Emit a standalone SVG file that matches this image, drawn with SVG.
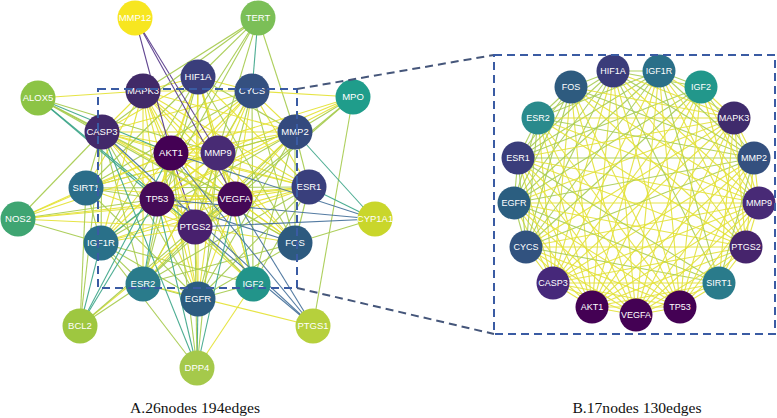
<svg xmlns="http://www.w3.org/2000/svg" width="777" height="418" viewBox="0 0 777 418">
<style>
.e path{fill:none;stroke-width:1.1;stroke-opacity:.92}
.y{stroke:#e4e234}.g{stroke:#a6cb4e}.t{stroke:#3ea68a}.b{stroke:#44709a}.p{stroke:#57398a}
.ry{stroke:#e3e23c}.rg{stroke:#a9cd57}
.lb{font-family:"Liberation Sans",Arial,sans-serif;font-size:9.5px;fill:#fff;text-anchor:middle}
.rb{font-family:"Liberation Sans",Arial,sans-serif;font-size:9px;fill:#fff;text-anchor:middle}
.cap{font-family:"Liberation Serif","Times New Roman",serif;font-size:15.6px;fill:#111;text-anchor:middle}
.box{fill:none;stroke:#3a5ba3;stroke-width:2;stroke-dasharray:8 5}
.lnk{fill:none;stroke:#45567a;stroke-width:2;stroke-dasharray:8 5}
</style>
<rect width="777" height="418" fill="#fff"/>
<g id="connectors-A" class="e">
<path class="y" d="M171 153L102 132"/><path class="y" d="M171 153L252 91"/><path class="y" d="M171 153L198 299"/><path class="y" d="M171 153L309 187"/><path class="g" d="M171 153L143 284"/><path class="y" d="M171 153L295 243"/><path class="y" d="M171 153L198 77"/><path class="y" d="M171 153L101 243"/><path class="g" d="M171 153L253 284"/><path class="y" d="M171 153L143 91"/><path class="y" d="M171 153L295 132"/><path class="y" d="M171 153L218 153"/><path class="p" d="M171 153L195 227"/><path class="y" d="M171 153L86 188"/><path class="y" d="M171 153L157 199"/><path class="y" d="M171 153L235 199"/>
<path class="y" d="M102 132L252 91"/><path class="g" d="M102 132L198 299"/><path class="y" d="M102 132L309 187"/><path class="g" d="M102 132L143 284"/><path class="y" d="M102 132L295 243"/><path class="y" d="M102 132L198 77"/><path class="g" d="M102 132L101 243"/><path class="y" d="M102 132L253 284"/><path class="y" d="M102 132L143 91"/><path class="y" d="M102 132L295 132"/><path class="y" d="M102 132L218 153"/><path class="y" d="M102 132L195 227"/><path class="g" d="M102 132L86 188"/><path class="y" d="M102 132L157 199"/><path class="y" d="M102 132L235 199"/>
<path class="g" d="M252 91L198 299"/><path class="y" d="M252 91L309 187"/><path class="g" d="M252 91L143 284"/><path class="g" d="M252 91L295 243"/><path class="y" d="M252 91L198 77"/><path class="y" d="M252 91L101 243"/><path class="g" d="M252 91L253 284"/><path class="y" d="M252 91L143 91"/><path class="y" d="M252 91L295 132"/><path class="y" d="M252 91L218 153"/><path class="y" d="M252 91L195 227"/><path class="g" d="M252 91L86 188"/><path class="y" d="M252 91L157 199"/><path class="y" d="M252 91L235 199"/>
<path class="g" d="M198 299L309 187"/><path class="g" d="M198 299L143 284"/><path class="g" d="M198 299L295 243"/><path class="y" d="M198 299L198 77"/><path class="g" d="M198 299L101 243"/><path class="g" d="M198 299L253 284"/><path class="y" d="M198 299L143 91"/><path class="g" d="M198 299L295 132"/><path class="y" d="M198 299L218 153"/><path class="y" d="M198 299L195 227"/><path class="g" d="M198 299L86 188"/><path class="y" d="M198 299L157 199"/><path class="y" d="M198 299L235 199"/>
<path class="g" d="M309 187L143 284"/><path class="g" d="M309 187L295 243"/><path class="y" d="M309 187L198 77"/><path class="y" d="M309 187L101 243"/><path class="g" d="M309 187L253 284"/><path class="y" d="M309 187L143 91"/><path class="g" d="M309 187L295 132"/><path class="y" d="M309 187L218 153"/><path class="y" d="M309 187L195 227"/><path class="g" d="M309 187L86 188"/><path class="y" d="M309 187L157 199"/><path class="y" d="M309 187L235 199"/>
<path class="g" d="M143 284L295 243"/><path class="g" d="M143 284L198 77"/><path class="g" d="M143 284L101 243"/><path class="y" d="M143 284L143 91"/><path class="g" d="M143 284L295 132"/><path class="y" d="M143 284L218 153"/><path class="y" d="M143 284L195 227"/><path class="t" d="M143 284L157 199"/><path class="g" d="M143 284L235 199"/>
<path class="g" d="M295 243L198 77"/><path class="y" d="M295 243L143 91"/><path class="g" d="M295 243L295 132"/><path class="y" d="M295 243L218 153"/><path class="y" d="M295 243L195 227"/><path class="b" d="M295 243L157 199"/><path class="y" d="M295 243L235 199"/>
<path class="g" d="M198 77L101 243"/><path class="g" d="M198 77L253 284"/><path class="y" d="M198 77L143 91"/><path class="g" d="M198 77L295 132"/><path class="y" d="M198 77L218 153"/><path class="y" d="M198 77L195 227"/><path class="g" d="M198 77L86 188"/><path class="y" d="M198 77L157 199"/><path class="y" d="M198 77L235 199"/>
<path class="g" d="M101 243L253 284"/><path class="y" d="M101 243L143 91"/><path class="g" d="M101 243L295 132"/><path class="y" d="M101 243L218 153"/><path class="y" d="M101 243L195 227"/><path class="g" d="M101 243L86 188"/><path class="t" d="M101 243L157 199"/><path class="y" d="M101 243L235 199"/>
<path class="y" d="M253 284L143 91"/><path class="g" d="M253 284L295 132"/><path class="y" d="M253 284L218 153"/><path class="g" d="M253 284L195 227"/><path class="y" d="M253 284L157 199"/><path class="t" d="M253 284L235 199"/>
<path class="y" d="M143 91L295 132"/><path class="y" d="M143 91L218 153"/><path class="y" d="M143 91L195 227"/><path class="y" d="M143 91L86 188"/><path class="y" d="M143 91L157 199"/><path class="y" d="M143 91L235 199"/>
<path class="y" d="M295 132L218 153"/><path class="y" d="M295 132L195 227"/><path class="g" d="M295 132L86 188"/><path class="y" d="M295 132L157 199"/><path class="y" d="M295 132L235 199"/>
<path class="y" d="M218 153L195 227"/><path class="y" d="M218 153L86 188"/><path class="y" d="M218 153L157 199"/><path class="y" d="M218 153L235 199"/>
<path class="y" d="M195 227L86 188"/><path class="y" d="M195 227L157 199"/><path class="y" d="M195 227L235 199"/>
<path class="g" d="M86 188L157 199"/><path class="y" d="M86 188L235 199"/>
<path class="y" d="M157 199L235 199"/>
<path class="p" d="M135 18L171 153"/><path class="p" d="M135 18L218 153"/><path class="p" d="M135 18L235 199"/>
<path class="g" d="M258 18L102 132"/><path class="g" d="M258 18L143 91"/><path class="g" d="M258 18L198 77"/><path class="t" d="M258 18L252 91"/><path class="g" d="M258 18L295 132"/><path class="g" d="M258 18L171 153"/><path class="g" d="M258 18L157 199"/><path class="g" d="M258 18L195 227"/>
<path class="y" d="M38 98L143 91"/><path class="g" d="M38 98L102 132"/><path class="t" d="M38 98L171 153"/><path class="g" d="M38 98L218 153"/><path class="t" d="M38 98L157 199"/><path class="g" d="M38 98L235 199"/><path class="t" d="M38 98L195 227"/><path class="g" d="M38 98L295 243"/>
<path class="g" d="M18 219L102 132"/><path class="y" d="M18 219L86 188"/><path class="y" d="M18 219L171 153"/><path class="g" d="M18 219L157 199"/><path class="y" d="M18 219L235 199"/><path class="y" d="M18 219L195 227"/><path class="g" d="M18 219L101 243"/><path class="y" d="M18 219L218 153"/><path class="y" d="M18 219L309 187"/>
<path class="y" d="M353 97L252 91"/><path class="g" d="M353 97L295 132"/><path class="y" d="M353 97L171 153"/><path class="y" d="M353 97L218 153"/><path class="g" d="M353 97L235 199"/><path class="y" d="M353 97L157 199"/><path class="g" d="M353 97L195 227"/><path class="g" d="M353 97L313 326"/>
<path class="t" d="M374 219L295 132"/><path class="t" d="M374 219L309 187"/><path class="g" d="M374 219L295 243"/><path class="b" d="M374 219L157 199"/><path class="b" d="M374 219L195 227"/><path class="b" d="M374 219L171 153"/>
<path class="b" d="M313 326L235 199"/><path class="b" d="M313 326L195 227"/><path class="b" d="M313 326L171 153"/><path class="b" d="M313 326L102 132"/><path class="y" d="M313 326L143 284"/>
<path class="t" d="M197 368L198 299"/><path class="t" d="M197 368L157 199"/><path class="g" d="M197 368L171 153"/><path class="t" d="M197 368L235 199"/><path class="g" d="M197 368L195 227"/><path class="g" d="M197 368L101 243"/><path class="t" d="M197 368L102 132"/><path class="g" d="M197 368L218 153"/><path class="y" d="M197 368L253 284"/>
<path class="g" d="M80 326L102 132"/><path class="g" d="M80 326L86 188"/><path class="t" d="M80 326L101 243"/><path class="t" d="M80 326L171 153"/><path class="t" d="M80 326L157 199"/><path class="g" d="M80 326L143 284"/><path class="y" d="M80 326L235 199"/><path class="g" d="M80 326L195 227"/>
</g>
<g id="connectors-B" class="e">
<path class="ry" d="M592 307L553 283"/><path class="ry" d="M592 307L526 247"/><path class="ry" d="M592 307L514 203"/><path class="ry" d="M592 307L518 158"/><path class="ry" d="M592 307L538 118"/><path class="ry" d="M592 307L571 87"/><path class="ry" d="M592 307L613 71"/><path class="ry" d="M592 307L659 71"/><path class="ry" d="M592 307L701 87"/><path class="ry" d="M592 307L734 118"/><path class="ry" d="M592 307L754 158"/><path class="ry" d="M592 307L759 203"/><path class="ry" d="M592 307L746 247"/><path class="ry" d="M592 307L719 283"/><path class="ry" d="M592 307L680 307"/><path class="ry" d="M592 307L636 315"/>
<path class="ry" d="M553 283L526 247"/><path class="ry" d="M553 283L514 203"/><path class="ry" d="M553 283L518 158"/><path class="ry" d="M553 283L538 118"/><path class="ry" d="M553 283L571 87"/><path class="ry" d="M553 283L613 71"/><path class="ry" d="M553 283L659 71"/><path class="ry" d="M553 283L701 87"/><path class="ry" d="M553 283L734 118"/><path class="ry" d="M553 283L754 158"/><path class="ry" d="M553 283L759 203"/><path class="ry" d="M553 283L746 247"/><path class="ry" d="M553 283L719 283"/><path class="ry" d="M553 283L680 307"/><path class="ry" d="M553 283L636 315"/>
<path class="rg" d="M526 247L514 203"/><path class="rg" d="M526 247L518 158"/><path class="rg" d="M526 247L538 118"/><path class="rg" d="M526 247L571 87"/><path class="rg" d="M526 247L613 71"/><path class="rg" d="M526 247L659 71"/><path class="rg" d="M526 247L701 87"/><path class="ry" d="M526 247L734 118"/><path class="rg" d="M526 247L754 158"/><path class="ry" d="M526 247L759 203"/><path class="ry" d="M526 247L746 247"/><path class="rg" d="M526 247L719 283"/><path class="ry" d="M526 247L680 307"/><path class="ry" d="M526 247L636 315"/>
<path class="rg" d="M514 203L518 158"/><path class="rg" d="M514 203L538 118"/><path class="rg" d="M514 203L571 87"/><path class="rg" d="M514 203L613 71"/><path class="rg" d="M514 203L659 71"/><path class="rg" d="M514 203L701 87"/><path class="ry" d="M514 203L734 118"/><path class="rg" d="M514 203L754 158"/><path class="ry" d="M514 203L759 203"/><path class="ry" d="M514 203L746 247"/><path class="rg" d="M514 203L719 283"/><path class="ry" d="M514 203L680 307"/><path class="ry" d="M514 203L636 315"/>
<path class="rg" d="M518 158L538 118"/><path class="rg" d="M518 158L571 87"/><path class="rg" d="M518 158L613 71"/><path class="rg" d="M518 158L659 71"/><path class="rg" d="M518 158L701 87"/><path class="ry" d="M518 158L734 118"/><path class="rg" d="M518 158L754 158"/><path class="ry" d="M518 158L759 203"/><path class="ry" d="M518 158L746 247"/><path class="rg" d="M518 158L719 283"/><path class="ry" d="M518 158L680 307"/><path class="ry" d="M518 158L636 315"/>
<path class="rg" d="M538 118L571 87"/><path class="rg" d="M538 118L613 71"/><path class="rg" d="M538 118L659 71"/><path class="ry" d="M538 118L734 118"/><path class="rg" d="M538 118L754 158"/><path class="ry" d="M538 118L759 203"/><path class="ry" d="M538 118L746 247"/><path class="ry" d="M538 118L680 307"/><path class="ry" d="M538 118L636 315"/>
<path class="rg" d="M571 87L613 71"/><path class="ry" d="M571 87L734 118"/><path class="rg" d="M571 87L754 158"/><path class="ry" d="M571 87L759 203"/><path class="ry" d="M571 87L746 247"/><path class="ry" d="M571 87L680 307"/><path class="ry" d="M571 87L636 315"/>
<path class="rg" d="M613 71L659 71"/><path class="rg" d="M613 71L701 87"/><path class="ry" d="M613 71L734 118"/><path class="rg" d="M613 71L754 158"/><path class="ry" d="M613 71L759 203"/><path class="ry" d="M613 71L746 247"/><path class="rg" d="M613 71L719 283"/><path class="ry" d="M613 71L680 307"/><path class="ry" d="M613 71L636 315"/>
<path class="rg" d="M659 71L701 87"/><path class="ry" d="M659 71L734 118"/><path class="rg" d="M659 71L754 158"/><path class="ry" d="M659 71L759 203"/><path class="ry" d="M659 71L746 247"/><path class="rg" d="M659 71L719 283"/><path class="ry" d="M659 71L680 307"/><path class="ry" d="M659 71L636 315"/>
<path class="ry" d="M701 87L734 118"/><path class="rg" d="M701 87L754 158"/><path class="ry" d="M701 87L759 203"/><path class="ry" d="M701 87L746 247"/><path class="ry" d="M701 87L680 307"/><path class="ry" d="M701 87L636 315"/>
<path class="ry" d="M734 118L754 158"/><path class="ry" d="M734 118L759 203"/><path class="ry" d="M734 118L746 247"/><path class="ry" d="M734 118L719 283"/><path class="ry" d="M734 118L680 307"/><path class="ry" d="M734 118L636 315"/>
<path class="ry" d="M754 158L759 203"/><path class="ry" d="M754 158L746 247"/><path class="rg" d="M754 158L719 283"/><path class="ry" d="M754 158L680 307"/><path class="ry" d="M754 158L636 315"/>
<path class="ry" d="M759 203L746 247"/><path class="ry" d="M759 203L719 283"/><path class="ry" d="M759 203L680 307"/><path class="ry" d="M759 203L636 315"/>
<path class="ry" d="M746 247L719 283"/><path class="ry" d="M746 247L680 307"/><path class="ry" d="M746 247L636 315"/>
<path class="ry" d="M719 283L680 307"/><path class="ry" d="M719 283L636 315"/>
<path class="ry" d="M680 307L636 315"/>
</g>
<g id="nodes-A">
<g id="a-MMP12"><circle cx="135" cy="18" r="17.5" fill="#f7e620"/><text class="lb" x="135" y="21.4">MMP12</text></g>
<g id="a-TERT"><circle cx="258" cy="18" r="17.5" fill="#7bbf57"/><text class="lb" x="258" y="21.4">TERT</text></g>
<g id="a-HIF1A"><circle cx="198" cy="77" r="17.5" fill="#3a3e7b"/><text class="lb" x="198" y="80.4">HIF1A</text></g>
<g id="a-MAPK3"><circle cx="143" cy="91" r="17.5" fill="#412a68"/><text class="lb" x="143" y="94.4">MAPK3</text></g>
<g id="a-CYCS"><circle cx="252" cy="91" r="17.5" fill="#345080"/><text class="lb" x="252" y="94.4">CYCS</text></g>
<g id="a-ALOX5"><circle cx="38" cy="98" r="17.5" fill="#8cc445"/><text class="lb" x="38" y="101.4">ALOX5</text></g>
<g id="a-MPO"><circle cx="353" cy="97" r="17.5" fill="#1f9d8b"/><text class="lb" x="353" y="100.4">MPO</text></g>
<g id="a-CASP3"><circle cx="102" cy="132" r="17.5" fill="#42296a"/><text class="lb" x="102" y="135.4">CASP3</text></g>
<g id="a-MMP2"><circle cx="295" cy="132" r="17.5" fill="#344a7e"/><text class="lb" x="295" y="135.4">MMP2</text></g>
<g id="a-AKT1"><circle cx="171" cy="153" r="17.5" fill="#440154"/><text class="lb" x="171" y="156.4">AKT1</text></g>
<g id="a-MMP9"><circle cx="218" cy="153" r="17.5" fill="#482b74"/><text class="lb" x="218" y="156.4">MMP9</text></g>
<g id="a-SIRT1"><circle cx="86" cy="188" r="17.5" fill="#2b6d89"/><text class="lb" x="86" y="191.4">SIRT1</text></g>
<g id="a-ESR1"><circle cx="309" cy="187" r="17.5" fill="#393f7c"/><text class="lb" x="309" y="190.4">ESR1</text></g>
<g id="a-TP53"><circle cx="157" cy="199" r="17.5" fill="#450b57"/><text class="lb" x="157" y="202.4">TP53</text></g>
<g id="a-VEGFA"><circle cx="235" cy="199" r="17.5" fill="#450857"/><text class="lb" x="235" y="202.4">VEGFA</text></g>
<g id="a-NOS2"><circle cx="18" cy="219" r="17.5" fill="#3fa572"/><text class="lb" x="18" y="222.4">NOS2</text></g>
<g id="a-CYP1A1"><circle cx="375" cy="219" r="17.5" fill="#c9d62b"/><text class="lb" x="375" y="222.2" font-size="8.8">CYP1A1</text></g>
<g id="a-PTGS2"><circle cx="195" cy="227" r="17.5" fill="#48206e"/><text class="lb" x="195" y="230.4">PTGS2</text></g>
<g id="a-IGF1R"><circle cx="101" cy="243" r="17.5" fill="#297089"/><text class="lb" x="101" y="246.4">IGF1R</text></g>
<g id="a-FOS"><circle cx="295" cy="243" r="17.5" fill="#2d5a7f"/><text class="lb" x="295" y="246.4">FOS</text></g>
<g id="a-ESR2"><circle cx="143" cy="284" r="17.5" fill="#2a7b8b"/><text class="lb" x="143" y="287.4">ESR2</text></g>
<g id="a-IGF2"><circle cx="253" cy="284" r="17.5" fill="#22948a"/><text class="lb" x="253" y="287.4">IGF2</text></g>
<g id="a-EGFR"><circle cx="198" cy="299" r="17.5" fill="#2c5c80"/><text class="lb" x="198" y="302.4">EGFR</text></g>
<g id="a-BCL2"><circle cx="80" cy="326" r="17.5" fill="#9ec740"/><text class="lb" x="80" y="329.4">BCL2</text></g>
<g id="a-PTGS1"><circle cx="313" cy="326" r="17.5" fill="#b6d03c"/><text class="lb" x="313" y="329.4">PTGS1</text></g>
<g id="a-DPP4"><circle cx="197" cy="368" r="17.5" fill="#a5c94b"/><text class="lb" x="197" y="371.4">DPP4</text></g>
</g>
<g id="nodes-B">
<g id="b-AKT1"><circle cx="592" cy="307" r="16.5" fill="#440154"/><text class="rb" x="592" y="310.2">AKT1</text></g>
<g id="b-CASP3"><circle cx="553" cy="283" r="16.5" fill="#46287a"/><text class="rb" x="553" y="286.2">CASP3</text></g>
<g id="b-CYCS"><circle cx="526" cy="247" r="16.5" fill="#31527f"/><text class="rb" x="526" y="250.2">CYCS</text></g>
<g id="b-EGFR"><circle cx="514" cy="203" r="16.5" fill="#2b5e80"/><text class="rb" x="514" y="206.2">EGFR</text></g>
<g id="b-ESR1"><circle cx="518" cy="158" r="16.5" fill="#3a3d7b"/><text class="rb" x="518" y="161.2">ESR1</text></g>
<g id="b-ESR2"><circle cx="538" cy="118" r="16.5" fill="#2a8a8c"/><text class="rb" x="538" y="121.2">ESR2</text></g>
<g id="b-FOS"><circle cx="571" cy="87" r="16.5" fill="#2e5b7f"/><text class="rb" x="571" y="90.2">FOS</text></g>
<g id="b-HIF1A"><circle cx="613" cy="71" r="16.5" fill="#3a3c7a"/><text class="rb" x="613" y="74.2">HIF1A</text></g>
<g id="b-IGF1R"><circle cx="659" cy="71" r="16.5" fill="#2a6f88"/><text class="rb" x="659" y="74.2">IGF1R</text></g>
<g id="b-IGF2"><circle cx="701" cy="87" r="16.5" fill="#22978b"/><text class="rb" x="701" y="90.2">IGF2</text></g>
<g id="b-MAPK3"><circle cx="734" cy="118" r="16.5" fill="#3f2b6c"/><text class="rb" x="734" y="121.2">MAPK3</text></g>
<g id="b-MMP2"><circle cx="754" cy="158" r="16.5" fill="#34507f"/><text class="rb" x="754" y="161.2">MMP2</text></g>
<g id="b-MMP9"><circle cx="759" cy="203" r="16.5" fill="#482a76"/><text class="rb" x="759" y="206.2">MMP9</text></g>
<g id="b-PTGS2"><circle cx="746" cy="247" r="16.5" fill="#46246c"/><text class="rb" x="746" y="250.2">PTGS2</text></g>
<g id="b-SIRT1"><circle cx="719" cy="283" r="16.5" fill="#2a7b8b"/><text class="rb" x="719" y="286.2">SIRT1</text></g>
<g id="b-TP53"><circle cx="680" cy="307" r="16.5" fill="#440154"/><text class="rb" x="680" y="310.2">TP53</text></g>
<g id="b-VEGFA"><circle cx="636" cy="315" r="16.5" fill="#440154"/><text class="rb" x="636" y="318.2">VEGFA</text></g>
</g>
<g id="frames">
<rect class="box" x="98" y="89" width="199" height="199"/>
<path class="lnk" d="M297 89L494 55"/>
<path class="lnk" d="M297 288L494 334"/>
<rect class="box" x="494" y="55" width="281" height="279"/>
</g>
<g id="captions">
<text class="cap" x="195" y="413">A.26nodes 194edges</text>
<text class="cap" x="637" y="413">B.17nodes 130edges</text>
</g>
</svg>
